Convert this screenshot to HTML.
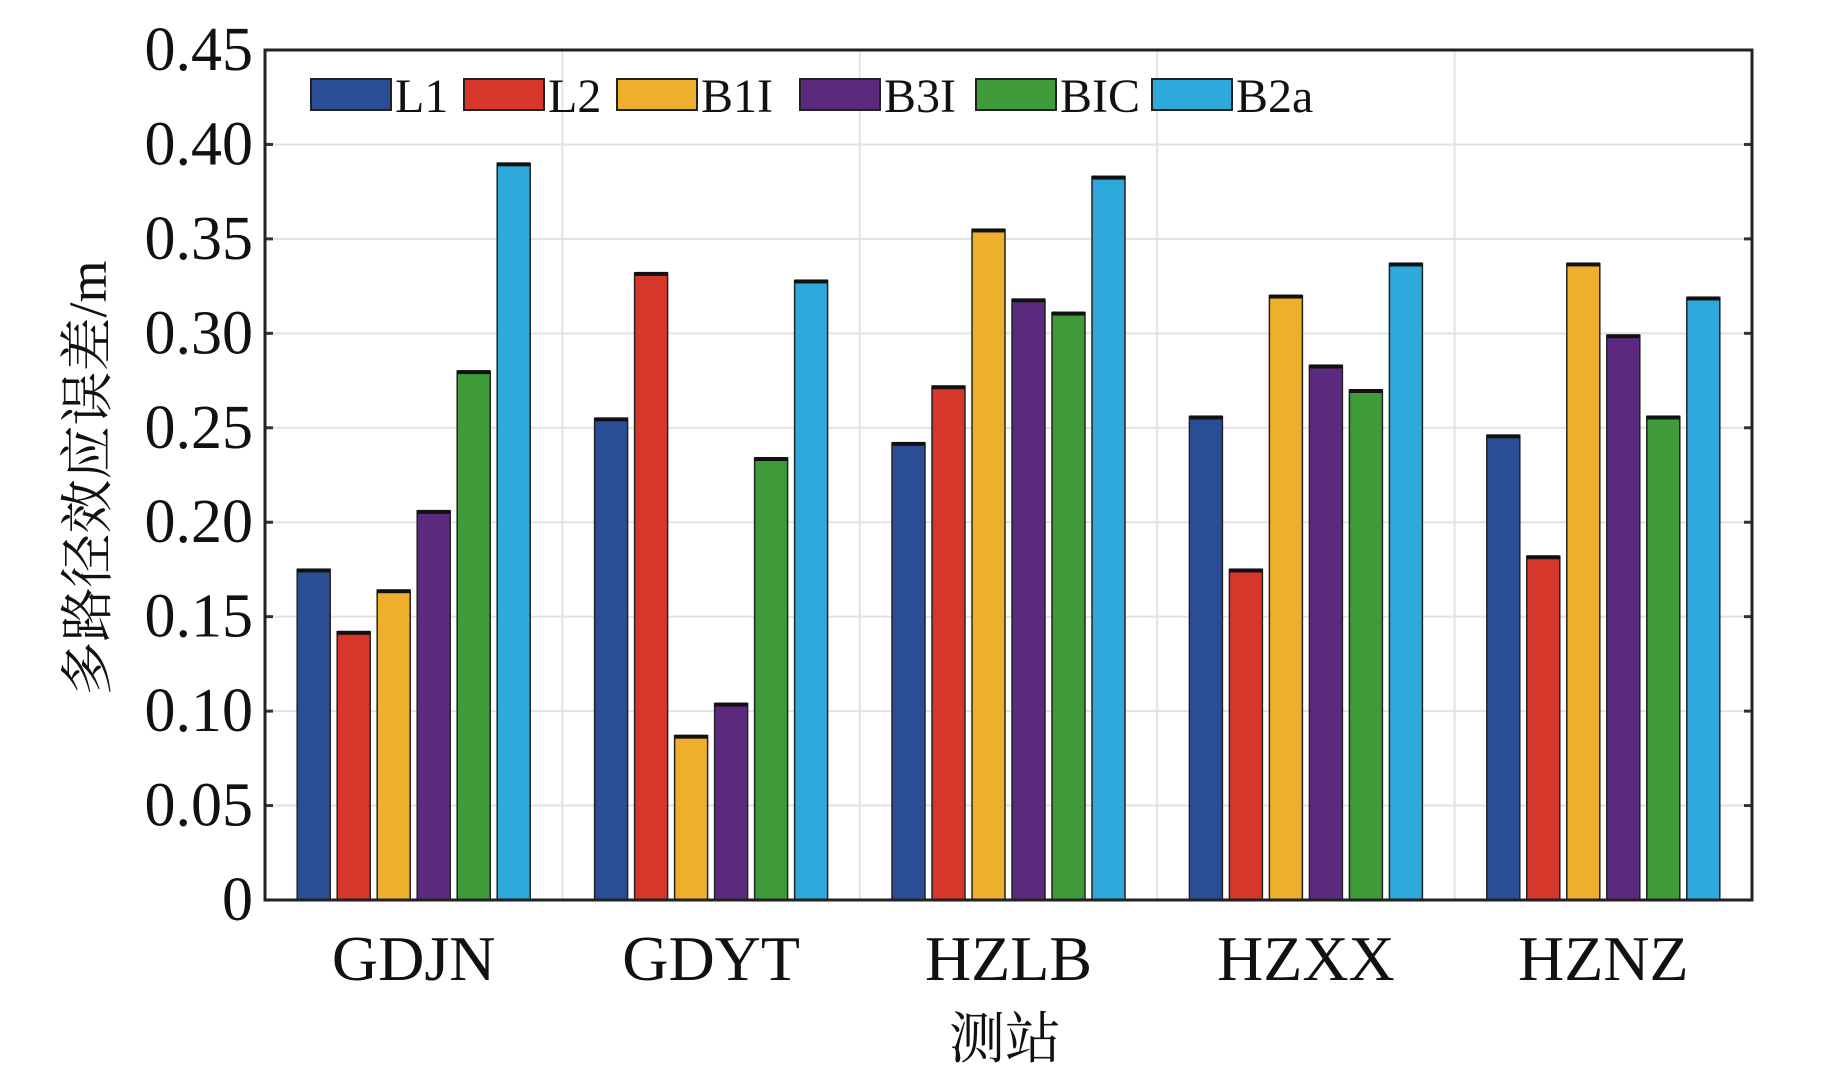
<!DOCTYPE html>
<html><head><meta charset="utf-8"><style>
body{margin:0;background:#fff;}
svg{display:block;}
</style></head><body>
<svg id="chart" width="1843" height="1075" xmlns="http://www.w3.org/2000/svg"></svg>
<script>
const categories=["GDJN","GDYT","HZLB","HZXX","HZNZ"];
const seriesNames=["L1","L2","B1I","B3I","BIC","B2a"];
const L1=[0.175,0.255,0.242,0.256,0.246];
const L2=[0.142,0.332,0.272,0.175,0.182];
const B1I=[0.164,0.087,0.355,0.320,0.337];
const B3I=[0.206,0.104,0.318,0.283,0.299];
const BIC=[0.280,0.234,0.311,0.270,0.256];
const B2a=[0.390,0.328,0.383,0.337,0.319];
const yTicks=[0,0.05,0.10,0.15,0.20,0.25,0.30,0.35,0.40,0.45];
const yTickLabels=["0","0.05","0.10","0.15","0.20","0.25","0.30","0.35","0.40","0.45"];
const series=[L1,L2,B1I,B3I,BIC,B2a];
const colors=["#2b4d96","#d6372a","#eeb02c","#5b2a7f","#3f9a3a","#2fa9dc"];
const NS="http://www.w3.org/2000/svg";
const svg=document.getElementById('chart');
const PL=265,PR=1752,PT=50,PB=900;
const y=v=>PB-(v/0.45)*(PB-PT);
const band=(PR-PL)/categories.length;
const x=i=>PL+band*i;
function mk(tag,attrs,parent){const e=document.createElementNS(NS,tag);for(const k in attrs)e.setAttribute(k,attrs[k]);(parent||svg).appendChild(e);return e;}
const font='"Liberation Serif","Noto Serif CJK SC",serif';
yTicks.forEach((t,i)=>{
  if(i>0&&i<yTicks.length-1){const g=mk('line',{x1:PL,x2:PR,y1:y(t),y2:y(t),stroke:'#e2e2e2','stroke-width':2});
  
  }
  const tk=mk('line',{x1:PL,x2:PL+8,y1:y(t),y2:y(t),stroke:'#333','stroke-width':3});
  
  
  const tr=mk('line',{x1:PR-8,x2:PR,y1:y(t),y2:y(t),stroke:'#333','stroke-width':3});
  
  
  const tl=mk('text',{x:PL-12,y:y(t)+20,'text-anchor':'end','font-family':font,'font-size':62,fill:'#111'});
  tl.textContent=yTickLabels[i];
  
  
});
for(let i=1;i<categories.length;i++){const v=mk('line',{x1:x(i),x2:x(i),y1:PT,y2:PB,stroke:'#e2e2e2','stroke-width':2});

}
const step=40,bw=33;
categories.forEach((c,ci)=>{
  const cx=x(ci)+band/2;
  series.forEach((s,si)=>{
    const bx=cx-3*step+si*step+(step-bw)/2;
    const r=mk('rect',{x:bx,y:y(s[ci]),width:bw,height:PB-y(s[ci]),fill:colors[si],stroke:'#222','stroke-width':1.5});
    
    
    const cap=mk('rect',{x:bx,y:y(s[ci])-1,width:bw,height:4,fill:'#111'});
    
    
  });
  const lab=mk('text',{x:cx,y:PB+80,'text-anchor':'middle','font-family':font,'font-size':64,fill:'#111'});
  lab.textContent=c;
  
  
});
const fr=mk('rect',{x:PL,y:PT,width:PR-PL,height:PB-PT,fill:'none',stroke:'#222','stroke-width':3});


const lx=[311,464,617,800,976,1152];
seriesNames.forEach((n,i)=>{
  const b=mk('rect',{x:lx[i],y:79,width:80,height:31,fill:colors[i],stroke:'#222','stroke-width':2});
  
  
  const t=mk('text',{x:lx[i]+84,y:112,'font-family':font,'font-size':48,fill:'#111'});
  t.textContent=n;
  
  
});
const yt=mk('text',{x:0,y:0,transform:'translate(106,478) rotate(-90)','text-anchor':'middle','font-family':font,'font-size':54,fill:'#111'});
yt.textContent='多路径效应误差/m';


const xt=mk('text',{x:1005,y:1058,'text-anchor':'middle','font-family':font,'font-size':56,fill:'#111'});
xt.textContent='测站';


</script>
</body></html>
